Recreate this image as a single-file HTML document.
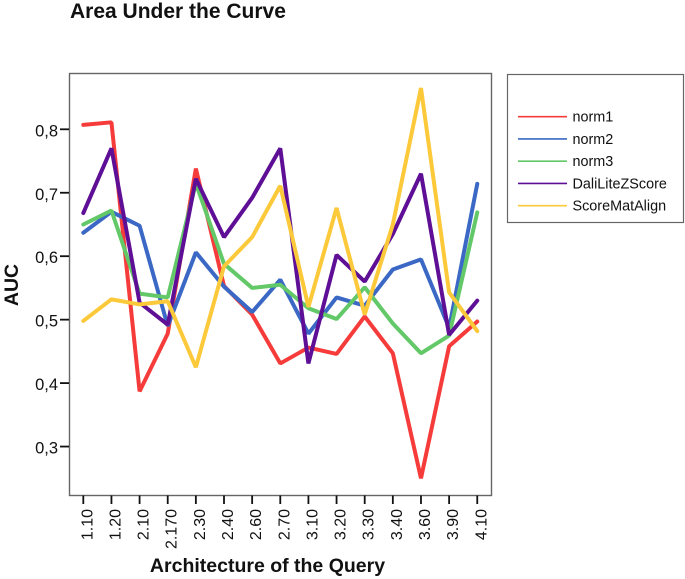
<!DOCTYPE html>
<html>
<head>
<meta charset="utf-8">
<style>
html,body{margin:0;padding:0;background:#fff;width:685px;height:579px;overflow:hidden}
svg{display:block;font-family:"Liberation Sans",Arial,sans-serif;color:#111;filter:blur(0.3px)}
</style>
</head>
<body>
<svg id="chart" width="685" height="579" viewBox="0 0 685 579" xmlns="http://www.w3.org/2000/svg">
  <text x="70" y="18" font-size="21" font-weight="bold" fill="#111">Area Under the Curve</text>
  <rect x="69.5" y="73.5" width="422" height="422" fill="#fff" stroke="#666" stroke-width="1.4"/>
  <g id="ticks"></g>
  <g id="series"></g>
  <text transform="translate(18,285) rotate(-90)" text-anchor="middle" font-size="19.5" font-weight="bold" fill="#111">AUC</text>
  <text x="267.5" y="572" text-anchor="middle" font-size="19.5" font-weight="bold" fill="#111">Architecture of the Query</text>
  <rect x="507.5" y="74.5" width="176" height="148" fill="#fff" stroke="#666" stroke-width="1.2"/>
  <g id="legend"></g>
</svg>
<script>
const categories = ["1.10","1.20","2.10","2.170","2.30","2.40","2.60","2.70","3.10","3.20","3.30","3.40","3.60","3.90","4.10"];
const yTicks = [0.8,0.7,0.6,0.5,0.4,0.3];
const seriesNames = ["norm1","norm2","norm3","DaliLiteZScore","ScoreMatAlign"];
const seriesColors = ["#f63b3b","#3a68c4","#62c868","#5e0f96","#fcc93a"];
const norm1 = [0.807,0.811,0.387,0.478,0.738,0.553,0.508,0.431,0.456,0.446,0.505,0.447,0.250,0.458,0.497];
const norm2 = [0.637,0.670,0.648,0.490,0.606,0.552,0.512,0.563,0.478,0.535,0.522,0.579,0.595,0.487,0.714];
const norm3 = [0.650,0.672,0.541,0.535,0.715,0.588,0.550,0.555,0.518,0.501,0.551,0.494,0.447,0.475,0.669];
const daliLiteZScore = [0.668,0.770,0.527,0.492,0.722,0.630,0.692,0.770,0.431,0.602,0.560,0.635,0.730,0.476,0.530];
const scoreMatAlign = [0.498,0.532,0.524,0.529,0.425,0.584,0.630,0.711,0.520,0.676,0.508,0.650,0.865,0.543,0.482];
const allSeries = [norm1,norm2,norm3,daliLiteZScore,scoreMatAlign];

const NS = "http://www.w3.org/2000/svg";
function xScale(i){ return 83.3 + i * 28.14; }
function yScale(v){ return 129.3 + (0.8 - v) * 634.5; }
function make(tag, attrs, parent){
  const el = document.createElementNS(NS, tag);
  for (const k in attrs) el.setAttribute(k, attrs[k]);
  parent.appendChild(el);
  return el;
}
const ticksG = document.getElementById("ticks");
yTicks.forEach(function(v){
  const y = yScale(v);
  const t = make("line", {x1:60, x2:69, y1:y, y2:y, stroke:"#111", "stroke-width":1.8}, ticksG);
  
  
  const l = make("text", {x:58, y:y+7, "text-anchor":"end", "font-size":16.5, fill:"#111"}, ticksG);
  
  
  l.textContent = v.toFixed(1).replace(".", ",");
});
categories.forEach(function(c, i){
  const x = xScale(i);
  const t = make("line", {x1:x, x2:x, y1:495.5, y2:504, stroke:"#111", "stroke-width":1.8}, ticksG);
  
  
  const l = make("text", {transform:"translate("+(x+9)+",509) rotate(-90)", "text-anchor":"end", "font-size":16, fill:"#111"}, ticksG);
  
  
  l.textContent = c;
});
const seriesG = document.getElementById("series");
allSeries.forEach(function(vals, s){
  const pts = vals.map(function(v, i){ return xScale(i).toFixed(2) + "," + yScale(v).toFixed(2); }).join(" ");
  const p = make("polyline", {points:pts, fill:"none", stroke:seriesColors[s], "stroke-width":4, "stroke-linejoin":"bevel", "stroke-linecap":"round"}, seriesG);
  
  
});
const legendG = document.getElementById("legend");
seriesNames.forEach(function(n, s){
  const y = 116.7 + s * 22.25;
  const ln = make("line", {x1:518, x2:567, y1:y, y2:y, stroke:seriesColors[s], "stroke-width":1.6}, legendG);
  
  
  const tx = make("text", {x:572.5, y:y+5, "font-size":14.4, fill:"#111"}, legendG);
  
  
  tx.textContent = n;
});
</script>
</body>
</html>
